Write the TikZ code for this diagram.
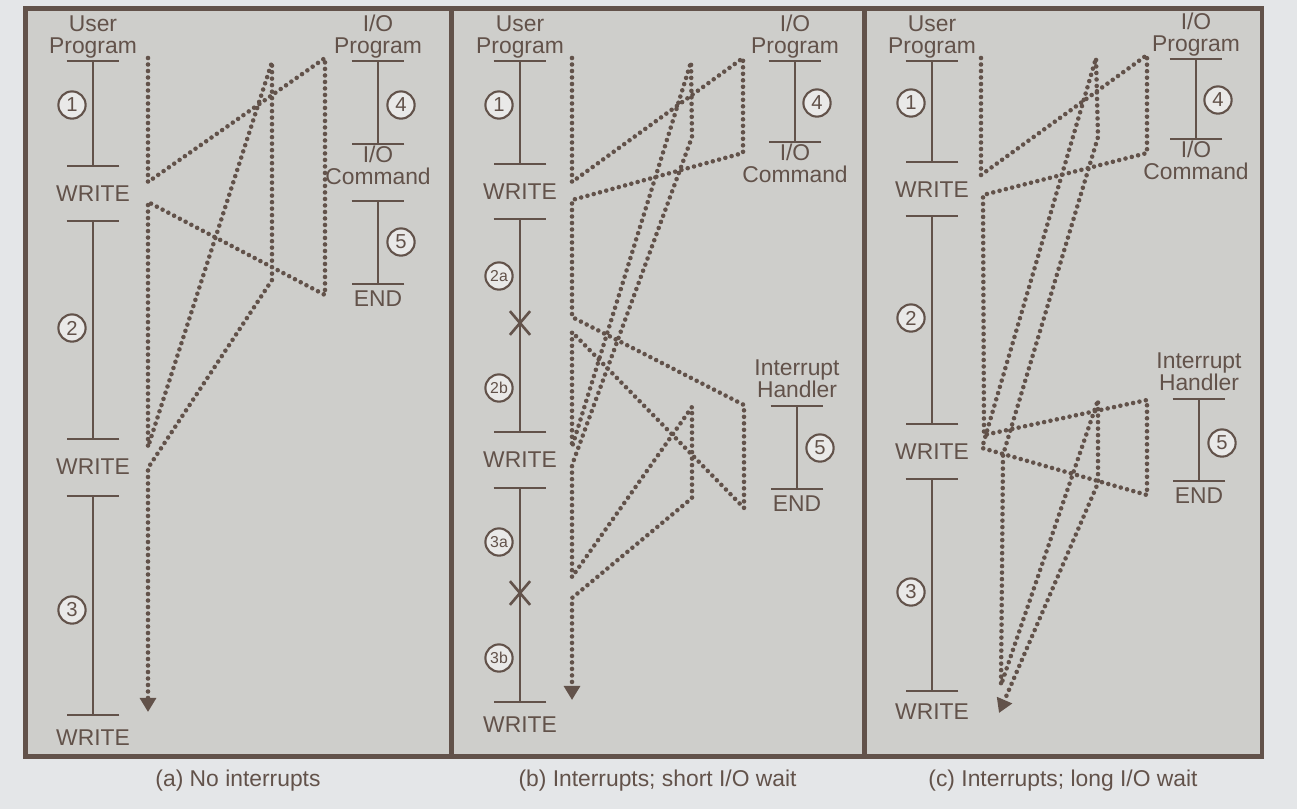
\documentclass[tikz,border=0pt]{standalone}
\usepackage{fontspec}
\setmainfont{Liberation Sans}
\usetikzlibrary{arrows.meta, positioning, shapes.misc}

\definecolor{ink}{RGB}{98,82,74}
\definecolor{paper}{RGB}{206,206,203}
\definecolor{page}{RGB}{228,230,232}

\begin{document}
\begin{tikzpicture}[x=0.02cm, y=-0.02cm,
    txt/.style={text=ink, font=\fontsize{13}{12.5}\selectfont, align=center, inner sep=0pt},
    seg/.style={draw=ink, line width=1.4pt, {Bar[width=30pt]}-{Bar[width=30pt]}},
    num/.style={draw=ink, text=ink, circle, line width=1.2pt, fill=white!55!paper, minimum size=15.5pt, inner sep=0pt, font=\fontsize{11.5}{11.5}\selectfont},
    subnum/.style={num, font=\fontsize{9}{9}\selectfont},
    intr/.style={draw=ink, cross out, line width=1.5pt, minimum width=10pt, minimum height=12pt, inner sep=0pt},
    flow/.style={draw=ink, line width=2.6pt, line cap=round, line join=round, dash pattern=on 0pt off 3.7pt},
    panel/.style={draw=ink, line width=2.8pt, fill=paper, minimum height=14.98cm, inner sep=0pt},
    caption/.style={text=ink, font=\fontsize{13}{13}\selectfont, inner sep=0pt}
]
    \path[use as bounding box, fill=page] (0,0) rectangle (1297,809);

    \node[panel, minimum width=8.52cm] (pa) at (238,382.5) {};
    \node[panel, minimum width=8.26cm] (pb) at (657.5,382.5) {};
    \node[panel, minimum width=7.96cm] (pc) at (1063,382.5) {};

    \node[caption, below=6pt of pa] (capa) {(a) No interrupts};
    \node[caption, below=6pt of pb] (capb) {(b) Interrupts; short I/O wait};
    \node[caption, below=6pt of pc] (capc) {(c) Interrupts; long I/O wait};

    % (a) no interrupts
    \coordinate (ua0) at (93,60);
    \coordinate (ua1) at (93,167);
    \coordinate (ua2) at (93,220);
    \coordinate (ua3) at (93,440);
    \coordinate (ua4) at (93,495);
    \coordinate (ua5) at (93,716);
    \coordinate (ia0) at (378,60);
    \coordinate (ia1) at (378,145);
    \coordinate (ia2) at (378,200);
    \coordinate (ia3) at (378,285);

    \draw[seg] (ua0) -- (ua1);
    \draw[seg] (ua2) -- (ua3);
    \draw[seg] (ua4) -- (ua5);
    \draw[seg] (ia0) -- (ia1);
    \draw[seg] (ia2) -- (ia3);

    \node[txt, above=1pt of ua0] (usera) {User\\Program};
    \node[txt] (wa1) at (93,194) {WRITE};
    \node[txt] (wa2) at (93,467) {WRITE};
    \node[txt] (wa3) at (93,738) {WRITE};
    \node[txt, above=1pt of ia0] (ioa) {I/O\\Program};
    \node[txt, below=0.5pt of ia1] (cmda) {I/O\\Command};
    \node[txt, below=3pt of ia3] (enda) {END};

    \node[num] (na1) at (72,105) {1};
    \node[num] (na2) at (72,328) {2};
    \node[num] (na3) at (72,610) {3};
    \node[num] (na4) at (401,105) {4};
    \node[num] (na5) at (401,242) {5};

    \coordinate (fa0) at (148,58);
    \coordinate (fa1) at (148,182);
    \coordinate (fa2) at (325,58);
    \coordinate (fa3) at (325,295);
    \coordinate (fa4) at (148,202);
    \coordinate (fa5) at (148,447);
    \coordinate (fa6) at (272,62);
    \coordinate (fa7) at (272,280);
    \coordinate (fa8) at (148,468);
    \coordinate (fa9) at (148,712);
    \draw[flow, -{Triangle[width=9pt,length=8pt]}] (fa0) -- (fa1) -- (fa2) -- (fa3) -- (fa4) -- (fa5)
        -- (fa6) -- (fa7) -- (fa8) -- (fa9);

    % (b) short I/O wait
    \coordinate (ub0) at (520,60);
    \coordinate (ub1) at (520,165);
    \coordinate (ub2) at (520,218);
    \coordinate (ub3) at (520,433);
    \coordinate (ub4) at (520,487);
    \coordinate (ub5) at (520,703);
    \coordinate (ib0) at (795,60);
    \coordinate (ib1) at (795,143);
    \coordinate (hb0) at (797,405);
    \coordinate (hb1) at (797,490);

    \draw[seg] (ub0) -- (ub1);
    \draw[seg] (ub2) -- (ub3);
    \draw[seg] (ub4) -- (ub5);
    \draw[seg] (ib0) -- (ib1);
    \draw[seg] (hb0) -- (hb1);
    \node[intr] (xb1) at (520,323) {};
    \node[intr] (xb2) at (520,593) {};

    \node[txt, above=1pt of ub0] (userb) {User\\Program};
    \node[txt] (wb1) at (520,192) {WRITE};
    \node[txt] (wb2) at (520,460) {WRITE};
    \node[txt] (wb3) at (520,725) {WRITE};
    \node[txt, above=1pt of ib0] (iob) {I/O\\Program};
    \node[txt, below=0.5pt of ib1] (cmdb) {I/O\\Command};
    \node[txt, above=4pt of hb0] (hndb) {Interrupt\\Handler};
    \node[txt, below=3pt of hb1] (endb) {END};

    \node[num] (nb1) at (499,105) {1};
    \node[subnum] (nb2a) at (499,276) {2a};
    \node[subnum] (nb2b) at (499,388) {2b};
    \node[subnum] (nb3a) at (499,542) {3a};
    \node[subnum] (nb3b) at (499,658) {3b};
    \node[num] (nb4) at (817,103) {4};
    \node[num] (nb5) at (820,448) {5};

    \coordinate (fb0) at (572,58);
    \coordinate (fb1) at (572,182);
    \coordinate (fb2) at (743,58);
    \coordinate (fb3) at (743,153);
    \coordinate (fb4) at (572,200);
    \coordinate (fb5) at (572,317);
    \coordinate (fb6) at (744,405);
    \coordinate (fb7) at (744,508);
    \coordinate (fb8) at (572,332);
    \coordinate (fb9) at (572,447);
    \coordinate (fb10) at (691,62);
    \coordinate (fb11) at (692,137);
    \coordinate (fb12) at (572,465);
    \coordinate (fb13) at (572,577);
    \coordinate (fb14) at (692,407);
    \coordinate (fb15) at (692,498);
    \coordinate (fb16) at (572,598);
    \coordinate (fb17) at (572,700);
    \draw[flow, -{Triangle[width=9pt,length=8pt]}] (fb0) -- (fb1) -- (fb2) -- (fb3) -- (fb4) -- (fb5)
        -- (fb6) -- (fb7) -- (fb8) -- (fb9) -- (fb10) -- (fb11) -- (fb12) -- (fb13)
        -- (fb14) -- (fb15) -- (fb16) -- (fb17);

    % (c) long I/O wait
    \coordinate (uc0) at (932,60);
    \coordinate (uc1) at (932,163);
    \coordinate (uc2) at (932,215);
    \coordinate (uc3) at (932,425);
    \coordinate (uc4) at (932,478);
    \coordinate (uc5) at (932,692);
    \coordinate (ic0) at (1196,58);
    \coordinate (ic1) at (1196,140);
    \coordinate (hc0) at (1199,398);
    \coordinate (hc1) at (1199,482);

    \draw[seg] (uc0) -- (uc1);
    \draw[seg] (uc2) -- (uc3);
    \draw[seg] (uc4) -- (uc5);
    \draw[seg] (ic0) -- (ic1);
    \draw[seg] (hc0) -- (hc1);

    \node[txt, above=1pt of uc0] (userc) {User\\Program};
    \node[txt] (wc1) at (932,190) {WRITE};
    \node[txt] (wc2) at (932,452) {WRITE};
    \node[txt] (wc3) at (932,712) {WRITE};
    \node[txt, above=1pt of ic0] (ioc) {I/O\\Program};
    \node[txt, below=0.5pt of ic1] (cmdc) {I/O\\Command};
    \node[txt, above=4pt of hc0] (hndc) {Interrupt\\Handler};
    \node[txt, below=3pt of hc1] (endc) {END};

    \node[num] (nc1) at (911,103) {1};
    \node[num] (nc2) at (911,318) {2};
    \node[num] (nc3) at (911,592) {3};
    \node[num] (nc4) at (1218,100) {4};
    \node[num] (nc5) at (1222,443) {5};

    \coordinate (fc0) at (981,58);
    \coordinate (fc1) at (981,175);
    \coordinate (fc2) at (1147,55);
    \coordinate (fc3) at (1147,153);
    \coordinate (fc4) at (983,195);
    \coordinate (fc5) at (984,435);
    \coordinate (fc6) at (1147,400);
    \coordinate (fc7) at (1147,495);
    \coordinate (fc8) at (982,448);
    \coordinate (fc9) at (1096,58);
    \coordinate (fc10) at (1098,137);
    \coordinate (fc11) at (1003,455);
    \coordinate (fc12) at (1001,685);
    \coordinate (fc13) at (1098,400);
    \coordinate (fc14) at (1098,483);
    \coordinate (fc15) at (999,713);
    \draw[flow, -{Triangle[width=9pt,length=8pt]}] (fc0) -- (fc1) -- (fc2) -- (fc3) -- (fc4) -- (fc5)
        -- (fc6) -- (fc7) -- (fc8) -- (fc9) -- (fc10) -- (fc11) -- (fc12) -- (fc13)
        -- (fc14) -- (fc15);
\end{tikzpicture}
\end{document}
